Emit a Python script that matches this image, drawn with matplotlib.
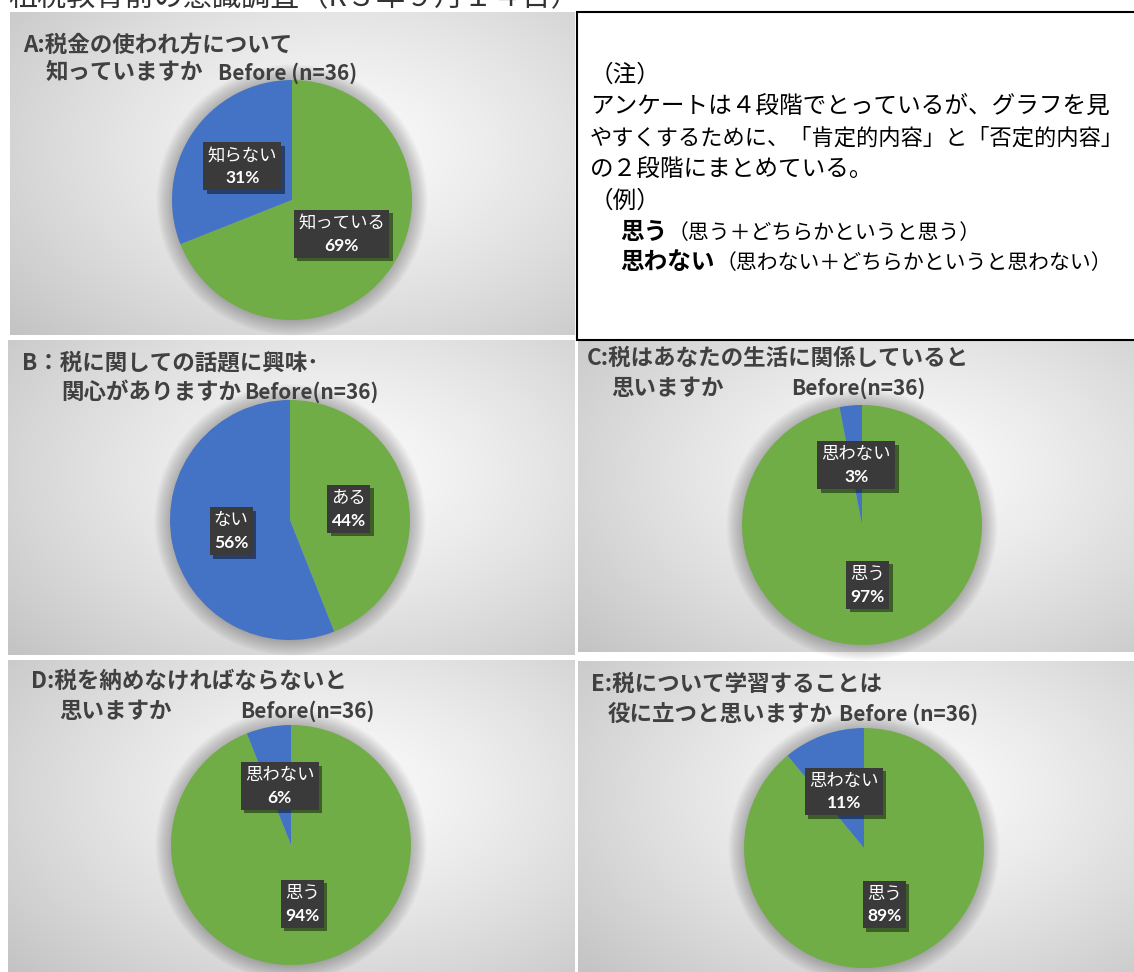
import numpy as np
import matplotlib
matplotlib.use("Agg")
import matplotlib.pyplot as plt
from matplotlib import patheffects
from matplotlib.offsetbox import TextArea, VPacker, AnnotationBbox
from matplotlib.patches import Rectangle, Circle

plt.rcParams['font.family'] = ['Noto Sans CJK JP', 'DejaVu Sans']

# ---------------- data ----------------
page_title = "租税教育前の意識調査（R３年９月１４日）"
title_line1 = ["A:税金の使われ方について", "B：税に関しての話題に興味･",
               "C:税はあなたの生活に関係していると", "D:税を納めなければならないと",
               "E:税について学習することは"]
title_line2 = ["知っていますか", "関心がありますか", "思いますか", "思いますか",
               "役に立つと思いますか"]
sample_labels = ["Before (n=36)", "Before(n=36)", "Before(n=36)", "Before(n=36)",
                 "Before (n=36)"]
pos_labels = ["知っている", "ある", "思う", "思う", "思う"]
neg_labels = ["知らない", "ない", "思わない", "思わない", "思わない"]
pos_pct = [69, 44, 97, 94, 89]
neg_pct = [31, 56, 3, 6, 11]

note_lines = ["（注）",
              "アンケートは４段階でとっているが、グラフを見",
              "やすくするために、「肯定的内容」と「否定的内容」",
              "の２段階にまとめている。",
              "（例）"]
example_heads = ["思う", "思わない"]
example_bodies = ["（思う＋どちらかというと思う）", "（思わない＋どちらかというと思わない）"]

# ---------------- layout (pixels) ----------------
W, H = 1134, 972
GREEN, BLUE = "#70AD47", "#4472C4"
TITLE_C = "#404040"

panels = [(10, 13, 575, 335), (8, 340, 575, 655), (578, 341, 1134, 652),
          (8, 660, 575, 972), (578, 661, 1134, 972)]
pie_geom = [(292, 200, 120), (290, 520, 120), (862, 525, 120),
            (291, 845, 120), (864, 848, 120)]
title_pos = [(23, 45, 46, 73, 218), (22, 363, 61, 392, 244),
             (587, 358, 611, 388, 791), (31, 681, 59, 711, 240),
             (591, 684, 608, 714, 839)]

fig = plt.figure(figsize=(W / 100, H / 100), dpi=100)
fig.patch.set_facecolor("white")

# background layer
bg = fig.add_axes([0, 0, 1, 1], zorder=0)
bg.set_xlim(0, W)
bg.set_ylim(H, 0)
bg.axis("off")

yy, xx = np.mgrid[0:1:200j, 0:1:300j]
for (x0, y0, x1, y1) in panels:
    d = np.sqrt(((xx - 0.58) * 1.0) ** 2 + ((yy - 0.42) * 0.9) ** 2)
    v = np.clip(0.985 - 0.30 * d ** 1.25, 0, 1)
    img = np.dstack([v, v, v])
    bg.imshow(img, extent=(x0, x1, y1, y0), aspect="auto", interpolation="bilinear",
              zorder=0)

# note box
bg.add_patch(Rectangle((577, 12), 600, 328, facecolor="white", edgecolor="black",
                       lw=1.5, zorder=2))
bg.set_xlim(0, W)
bg.set_ylim(H, 0)


def to_fig(x0, y0, w, h):
    return [x0 / W, 1 - (y0 + h) / H, w / W, h / H]


# pies
M = 1.15
for i, (cx, cy, r) in enumerate(pie_geom):
    ax = fig.add_axes(to_fig(cx - M * r, cy - M * r, 2 * M * r, 2 * M * r), zorder=1)
    ax.set_facecolor("none")
    for k in range(14):
        ax.add_patch(Circle((0, 0.0), 1.0 + 0.01 * k, facecolor="black",
                            alpha=0.018, edgecolor="none", zorder=0))
    vals = [pos_pct[i], neg_pct[i]]
    wedges, _ = ax.pie(vals, colors=[GREEN, BLUE], startangle=90, counterclock=False,
                       radius=1.0, wedgeprops=dict(linewidth=0))
    for w in wedges:
        w.set_zorder(2)
    names = [pos_labels[i], neg_labels[i]]
    for w, name, pct in zip(wedges, names, vals):
        mid = np.deg2rad((w.theta1 + w.theta2) / 2)
        px, py = 0.5 * np.cos(mid), 0.5 * np.sin(mid)
        t1 = TextArea(name, textprops=dict(color="white", fontsize=12.5,
                                           family=['Noto Sans CJK JP', 'DejaVu Sans']))
        t2 = TextArea(f"{pct}%", textprops=dict(color="white", fontsize=12.5,
                                                 weight="bold", family=['Lato', 'DejaVu Sans']))
        box = VPacker(children=[t1, t2], align="center", pad=0, sep=4)
        ab = AnnotationBbox(box, (px, py), xycoords="data", frameon=True, pad=0.5,
                            bboxprops=dict(facecolor="#3a3a3a", edgecolor="none",
                                           boxstyle="square"), zorder=5)
        ab.patch.set_path_effects([patheffects.withSimplePatchShadow(
            offset=(2.5, -2.5), shadow_rgbFace="black", alpha=0.45)])
        ax.add_artist(ab)
    ax.set_xlim(-M, M)
    ax.set_ylim(-M, M)
    ax.set_aspect("equal")
    ax.axis("off")

# text layer
tx = fig.add_axes([0, 0, 1, 1], zorder=3)
tx.set_xlim(0, W)
tx.set_ylim(H, 0)
tx.axis("off")
tx.patch.set_visible(False)

tx.text(8, -2, page_title, fontsize=21, color="#333333", va="center", ha="left",
        clip_on=False)

for i, (x1, y1, x2, y2, xb) in enumerate(title_pos):
    tx.text(x1, y1, title_line1[i], fontsize=16.2, weight="bold", color=TITLE_C,
            va="center", ha="left")
    tx.text(x2, y2, title_line2[i], fontsize=16.2, weight="bold", color=TITLE_C,
            va="center", ha="left")
    tx.text(xb, y2, sample_labels[i], fontsize=15, weight="bold", color=TITLE_C,
            va="center", ha="left")

note_y = [75, 106, 138, 170, 201]
note_fs = [17, 17, 16, 17, 17]
for s, y, fs in zip(note_lines, note_y, note_fs):
    tx.text(590, y, s, fontsize=fs, color="black", va="center", ha="left")

ex_y = [232, 262]
ex_head_x = 620
ex_body_x = [668, 716]
for head, body, y, bx in zip(example_heads, example_bodies, ex_y, ex_body_x):
    tx.text(ex_head_x, y, head, fontsize=17, weight="bold", color="black",
            va="center", ha="left")
    tx.text(bx, y + 1, body, fontsize=15, color="black", va="center", ha="left")

fig.savefig("out.png", dpi=100)
